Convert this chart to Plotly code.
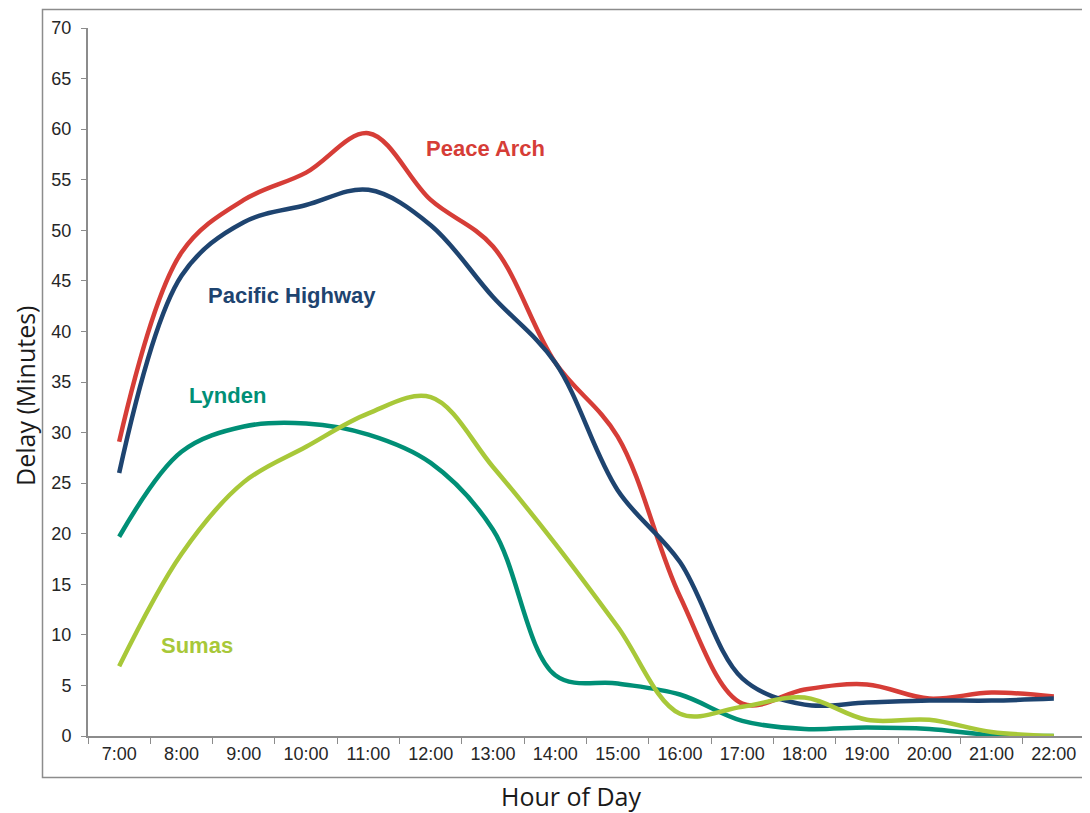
import plotly.graph_objects as go

hours = ["7:00", "8:00", "9:00", "10:00", "11:00", "12:00", "13:00", "14:00",
         "15:00", "16:00", "17:00", "18:00", "19:00", "20:00", "21:00", "22:00"]

peace_arch = [29.1, 47.8, 53.0, 55.7, 59.6, 53.0, 48.4, 36.9,
              29.6, 13.8, 3.2, 4.6, 5.1, 3.7, 4.3, 3.9]
pacific_highway = [26.0, 45.5, 50.8, 52.5, 54.0, 50.5, 43.4, 36.9,
                   24.3, 17.2, 5.7, 3.1, 3.3, 3.5, 3.5, 3.7]
lynden = [19.7, 28.1, 30.6, 30.9, 29.8, 27.0, 20.4, 6.0,
          5.2, 4.1, 1.5, 0.7, 0.85, 0.7, 0.1, 0.0]
sumas = [6.9, 18.0, 25.1, 28.6, 31.9, 33.5, 26.6, 19.0,
         10.8, 2.2, 2.9, 3.8, 1.6, 1.6, 0.4, 0.0]

series_names = ["Peace Arch", "Pacific Highway", "Lynden", "Sumas"]
series_values = [peace_arch, pacific_highway, lynden, sumas]
series_colors = ["#D63D37", "#1E4470", "#008F76", "#A8C839"]

y_ticks = [0, 5, 10, 15, 20, 25, 30, 35, 40, 45, 50, 55, 60, 65, 70]

# The page body has an 8px margin, so the figure starts at page (8, 8).
OFF = 8
W, H = 1090 - OFF, 813 - OFF
L, R, T, B = 88 - OFF, 5, 28 - OFF, 77

fig = go.Figure()
for name, vals, col in zip(series_names, series_values, series_colors):
    fig.add_trace(go.Scatter(
        x=hours, y=vals, name=name, mode="lines",
        line=dict(color=col, width=4.5, shape="spline", smoothing=1.0),
        showlegend=False, hoverinfo="x+y+name",
    ))

fig.update_layout(
    width=W, height=H,
    margin=dict(l=L, r=R, t=T, b=B),
    paper_bgcolor="white", plot_bgcolor="white",
    font=dict(family="Liberation Sans, Arial, sans-serif", color="#262626"),
    showlegend=False,
)

fig.update_xaxes(
    type="category", categoryorder="array", categoryarray=hours,
    range=[-0.5, len(hours) - 0.5],
    tickson="boundaries", ticks="outside", ticklen=6, tickwidth=1,
    tickcolor="#8c8c8c",
    showline=True, linecolor="#8c8c8c", linewidth=2,
    showgrid=False, zeroline=False,
    tickfont=dict(size=18, color="#262626"),
)
fig.update_yaxes(
    range=[0, 70], tickvals=y_ticks,
    ticks="outside", ticklen=5, tickwidth=1, tickcolor="#8c8c8c",
    showline=True, linecolor="#8c8c8c", linewidth=2,
    showgrid=False, zeroline=False,
    tickfont=dict(size=18, color="#262626"),
    ticklabelstandoff=6,
)

pw = W - L - R
ph = H - T - B

def px(xp):
    # page pixel x -> paper fraction
    return (xp - OFF - L) / pw

def py(yp):
    # page pixel y -> paper fraction
    return (H - B - (yp - OFF)) / ph

labels = [
    ("Peace Arch", 485, 148, series_colors[0]),
    ("Pacific Highway", 292, 296, series_colors[1]),
    ("Lynden", 227, 395, series_colors[2]),
    ("Sumas", 197, 645, series_colors[3]),
]
for text, xp, yp, col in labels:
    fig.add_annotation(
        x=px(xp), y=py(yp), xref="paper", yref="paper",
        text="<b>%s</b>" % text, showarrow=False,
        font=dict(family="Liberation Sans, Arial, sans-serif", size=22, color=col),
        xanchor="center", yanchor="middle",
    )

# axis titles
fig.add_annotation(
    x=px(25), y=py(396), xref="paper", yref="paper",
    text="Delay (Minutes)", showarrow=False, textangle=-90, borderpad=0,
    font=dict(family="Open Sans, sans-serif", size=25, color="#1a1a1a"),
    xanchor="center", yanchor="middle",
)
fig.add_annotation(
    x=px(571), y=py(796), xref="paper", yref="paper",
    text="Hour of Day", showarrow=False, borderpad=0,
    font=dict(family="Open Sans, sans-serif", size=25, color="#1a1a1a"),
    xanchor="center", yanchor="middle",
)

# outer chart border
fig.add_shape(
    type="rect", xref="paper", yref="paper",
    x0=px(42.5), x1=px(1100), y0=py(777.5), y1=py(9.5),
    line=dict(color="#8c8c8c", width=1.5), fillcolor="rgba(0,0,0,0)",
    layer="below",
)

fig.write_html("out.html")
